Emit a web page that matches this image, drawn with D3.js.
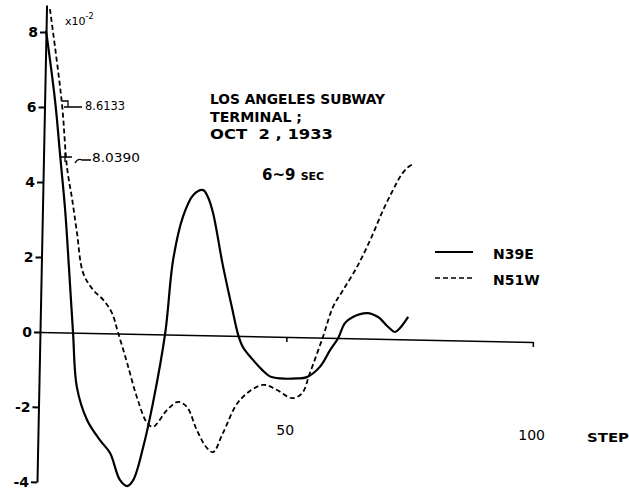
<!DOCTYPE html>
<html>
<head>
<meta charset="utf-8">
<script src="https://cdn.jsdelivr.net/npm/d3@7"></script>
<style>
  html, body { margin: 0; padding: 0; background: #fff; }
  svg { display: block; }
  text { font-family: "DejaVu Sans", sans-serif; fill: #000; }
</style>
</head>
<body>
<svg id="chart" width="629" height="494"></svg>
<script>
// Response wave, Los Angeles Subway Terminal, Oct 2 1933 (6~9 sec band), values x10^-2
const n39eStep = [0, 2.1, 3.4, 4.6, 5.6, 6.7, 7.7, 9.9, 12.6, 14.7, 16.8, 18.3, 19.5, 21.4, 23.2, 25.4,
  26.7, 28.5, 30.5, 32.5, 33.5, 34.6, 36.8, 38.8, 40.2, 41.2, 43.3, 45.2, 46.8, 49.0, 52.3, 54.3, 56.9,
  58.9, 60.5, 61.8, 63.4, 66.3, 68.5, 70.6, 72.0, 73.0, 74.6];
const n39eValue = [8.039, 6.19, 4.68, 3.27, 1.75, 0.0, -1.45, -2.32, -2.85, -3.19, -3.9, -4.06, -3.9, -3.01, -1.83, 0.04,
  1.99, 3.14, 3.73, 3.87, 3.69, 3.27, 1.88, 0.77, 0.03, -0.29, -0.63, -0.89, -1.06, -1.11, -1.10, -1.06, -0.78,
  -0.33, 0.0, 0.40, 0.57, 0.68, 0.58, 0.32, 0.19, 0.30, 0.60];

const n51wStep = [0.7, 3.5, 4.8, 6.0, 7.1, 8.5, 10.6, 12.7, 14.5, 15.8, 17.8, 19.9, 22.1, 23.3, 26.1, 28.3,
  30.1, 32.2, 34.3, 35.6, 37.5, 40.8, 45.4, 48.3, 51.4, 53.4, 54.9, 57.4, 59.3, 61.3, 64.0, 66.6,
  69.1, 71.0, 72.4, 73.8, 75.0];
const n51wValue = [8.6133, 6.12, 4.41, 3.54, 2.66, 1.6, 1.15, 0.89, 0.55, 0.04, -0.78, -1.68, -2.37, -2.47, -2.01, -1.79,
  -1.92, -2.53, -3.0, -3.11, -2.6, -1.71, -1.29, -1.42, -1.63, -1.49, -0.95, 0.02, 0.82, 1.28, 1.9, 2.63,
  3.44, 3.97, 4.33, 4.57, 4.68];

const yTicks = [-4, -2, 0, 2, 4, 6, 8];
const xTicks = [50, 100];
const seriesNames = ["N39E", "N51W"];
const peakLabels = ["8.6133", "8.0390"];
const titleLines = ["LOS ANGELES SUBWAY", "TERMINAL ;", "OCT  2 , 1933"];

const svg = d3.select("#chart");
const tilt = 1.15; // the hand-drawn frame sits slightly rotated

const x = d3.scaleLinear().domain([0, 100]).range([0, 493]);
const y = d3.scaleLinear().domain([-4, 8]).range([150, -300]);

const plot = svg.append("g").attr("transform", `translate(40,332) rotate(${tilt})`);

// y axis
const yAxis = d3.axisLeft(d3.scaleLinear().domain([-4, 8.72]).range([y(-4), y(8.72)]))
  .tickValues(yTicks).tickSize(6).tickSizeOuter(0).tickPadding(2)
  .tickFormat(d => String(d));
const gy = plot.append("g").call(yAxis);
gy.select(".domain").attr("stroke", "#000").attr("stroke-width", 2);
gy.selectAll(".tick line").attr("stroke", "#000").attr("stroke-width", 2);
gy.selectAll(".tick text")
  .attr("font-size", 14).attr("font-weight", "bold").attr("font-family", "DejaVu Sans")
  .attr("fill", "#000")
  .attr("transform", `rotate(${-tilt},-8,0)`);

// x axis along zero
const xAxis = d3.axisBottom(x).tickValues(xTicks).tickSize(5).tickSizeOuter(0).tickPadding(83)
  .tickFormat(d => String(d));
const gx = plot.append("g").attr("transform", `translate(0,${y(0)})`).call(xAxis);
gx.select(".domain").attr("stroke", "#000").attr("stroke-width", 1.5);
gx.selectAll(".tick line").attr("stroke", "#000").attr("stroke-width", 1.5);
gx.selectAll(".tick text")
  .attr("font-size", 14).attr("font-family", "DejaVu Sans").attr("fill", "#000")
  .attr("transform", `rotate(${-tilt},0,88)`);

const line = d3.line()
  .x(d => x(d[0])).y(d => y(d[1]))
  .curve(d3.curveCatmullRom.alpha(0.5));

plot.append("path")
  .datum(d3.zip(n39eStep, n39eValue))
  .attr("d", line).attr("fill", "none")
  .attr("stroke", "#000").attr("stroke-width", 2.2);

plot.append("path")
  .datum(d3.zip(n51wStep, n51wValue))
  .attr("d", line).attr("fill", "none")
  .attr("stroke", "#000").attr("stroke-width", 1.8)
  .attr("stroke-dasharray", "5,3");

// scale factor note
const unit = svg.append("text").attr("x", 65).attr("y", 25).attr("font-size", 11);
unit.append("tspan").text("x10");
unit.append("tspan").attr("dy", -6).attr("font-size", 8).text("-2");

// peak value call-outs
svg.append("path").attr("d", "M62,101 h6 v6 h-4 M66,107 h16")
  .attr("fill", "none").attr("stroke", "#000").attr("stroke-width", 1.3);
svg.append("text").attr("x", 85).attr("y", 110).attr("font-size", 12)
  .attr("textLength", 40).attr("lengthAdjust", "spacingAndGlyphs").text(peakLabels[0]);

svg.append("path").attr("d", "M60,157 H72 M65,153 V162 M75,163 q3,-5 7,-3 H91")
  .attr("fill", "none").attr("stroke", "#000").attr("stroke-width", 1.3);
svg.append("text").attr("x", 92).attr("y", 162).attr("font-size", 13)
  .attr("textLength", 48).attr("lengthAdjust", "spacingAndGlyphs").text(peakLabels[1]);

// title block
const titleWidths = [175, 92, 123];
titleLines.forEach((t, i) => {
  svg.append("text").attr("x", 210).attr("y", [104, 122, 139][i])
    .attr("font-size", 14).attr("font-weight", "bold")
    .attr("textLength", titleWidths[i]).attr("lengthAdjust", "spacingAndGlyphs")
    .attr("xml:space", "preserve").text(t);
});
const band = svg.append("text").attr("x", 262).attr("y", 180).attr("font-size", 15).attr("font-weight", "bold");
band.append("tspan").text("6~9 ");
band.append("tspan").attr("font-size", 11).text("SEC");

// legend
const legend = svg.append("g");
[0, 1].forEach(i => {
  const ly = 252 + i * 26;
  legend.append("line").attr("x1", 435).attr("x2", 473).attr("y1", ly).attr("y2", ly)
    .attr("stroke", "#000").attr("stroke-width", i === 0 ? 2 : 1.6)
    .attr("stroke-dasharray", i === 0 ? null : "5,3");
  legend.append("text").attr("x", 493).attr("y", ly + 7).attr("font-size", 14).attr("font-weight", "bold")
    .text(seriesNames[i]);
});

// x axis name
svg.append("text").attr("x", 587).attr("y", 442).attr("font-size", 13).attr("font-weight", "bold")
  .attr("textLength", 42).attr("lengthAdjust", "spacingAndGlyphs").text("STEP");
</script>
</body>
</html>
